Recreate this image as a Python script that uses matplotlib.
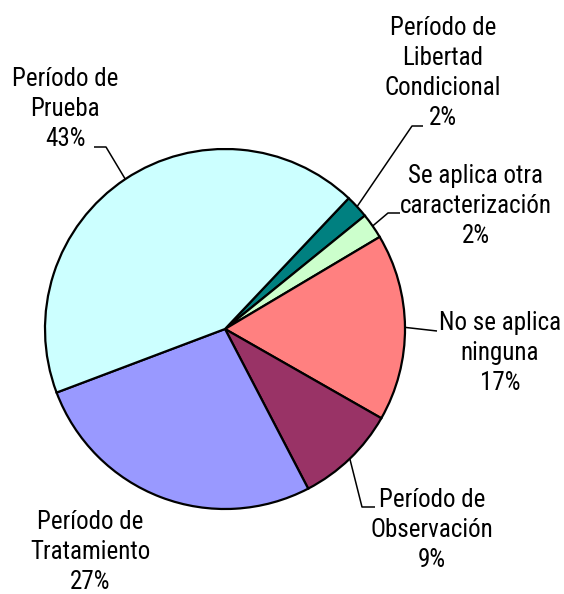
import numpy as np
import matplotlib
matplotlib.use("Agg")
import matplotlib.pyplot as plt

# ---- data (clockwise from the top-right) ----
categories = ["Período de\nLibertad\nCondicional", "Se aplica otra\ncaracterización",
              "No se aplica\nninguna", "Período de\nObservación",
              "Período de\nTratamiento", "Período de\nPrueba"]
values = [2.1, 2.3, 16.8, 9.1, 26.9, 42.8]
colors = ["#008080", "#CCFFCC", "#FF8080", "#993366", "#9999FF", "#CCFFFF"]

W, H = 564, 594
CX, CY, R = 225, 329, 180
START = 46.6

fig = plt.figure(figsize=(W / 100, H / 100), dpi=100)
ax = fig.add_axes([(CX - R) / W, (H - CY - R) / H, 2 * R / W, 2 * R / H])
wedges, _ = ax.pie(values, colors=colors, startangle=START, counterclock=False,
                   radius=1.0, wedgeprops=dict(edgecolor="black", linewidth=1.6))
ax.set_xlim(-1, 1)
ax.set_ylim(-1, 1)
ax.set_axis_off()

ov = fig.add_axes([0, 0, 1, 1], facecolor="none")
ov.set_xlim(0, W)
ov.set_ylim(H, 0)
ov.set_axis_off()

fam = ["Roboto Condensed", "Liberation Sans", "DejaVu Sans"]
FS = 18
LS = 30

def anchor(w):
    th = np.deg2rad((w.theta1 + w.theta2) / 2)
    return CX + R * np.cos(th), CY - R * np.sin(th)

# label layout: (center x, first baseline y), leader path (points before anchor)
layout = {
    0: ((443, 35), [(423, 126), (412, 126)]),
    1: ((476, 183), [(400, 213), (388, 213)]),
    2: ((500, 330), [(437, 331)]),
    3: ((432, 507), [(375, 507), (362, 507)]),
    4: ((90, 529), []),
    5: ((65, 86), [(94, 147), (106, 147)]),
}

for i, (w, cat, v) in enumerate(zip(wedges, categories, values)):
    (tx, ty), path = layout[i]
    lines = cat.split("\n") + [f"{round(v):d}%"]
    for k, ln in enumerate(lines):
        ov.text(tx, ty + k * LS, ln, ha="center", va="baseline",
                fontsize=FS, family=fam, color="black", clip_on=False)
    if path:
        ax_pt = anchor(w)
        xs = [p[0] for p in path] + [ax_pt[0]]
        ys = [p[1] for p in path] + [ax_pt[1]]
        ov.plot(xs, ys, color="black", lw=1.1, solid_capstyle="butt")

fig.savefig("out.png", dpi=100)
